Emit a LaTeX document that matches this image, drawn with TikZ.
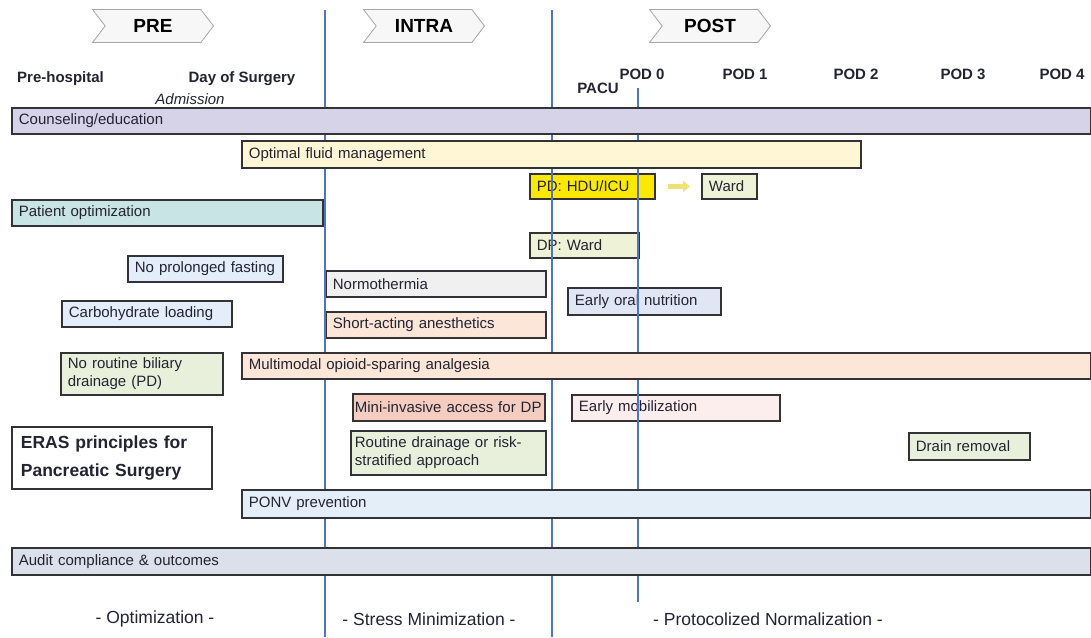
\documentclass[tikz,border=0pt]{standalone}
\usepackage{fontspec}
\setmainfont{Liberation Sans}
\usetikzlibrary{shapes.symbols,arrows.meta,shadows}

\definecolor{boxline}{RGB}{50,50,55}
\definecolor{txt}{RGB}{35,35,50}
\definecolor{divider}{RGB}{80,115,195}
\definecolor{lav}{RGB}{214,210,232}
\definecolor{fluid}{RGB}{255,246,214}
\definecolor{icuyellow}{RGB}{252,232,0}
\definecolor{wardgreen}{RGB}{238,242,214}
\definecolor{teal}{RGB}{200,228,228}
\definecolor{paleblue}{RGB}{228,238,250}
\definecolor{palegray}{RGB}{240,240,240}
\definecolor{lilacblue}{RGB}{225,230,245}
\definecolor{peach}{RGB}{252,230,216}
\definecolor{salmon}{RGB}{245,205,192}
\definecolor{pink}{RGB}{253,238,238}
\definecolor{palegreen}{RGB}{232,240,220}
\definecolor{skyblue}{RGB}{228,238,248}
\definecolor{auditgray}{RGB}{220,224,234}
\definecolor{arrowyellow}{RGB}{236,226,120}

\newcommand{\bxfont}{\fontsize{15}{18}\selectfont}

\tikzset{
    bar/.style={draw=boxline, line width=1.8pt, text=txt, font=\bxfont,
        anchor=north west, align=left, inner xsep=7pt, inner ysep=0pt,
        drop shadow={shadow xshift=1.5pt, shadow yshift=-1.5pt, opacity=0.25}},
    phase/.style={shape=signal, signal from=west, signal to=east,
        signal pointer angle=105, draw=gray!70, fill=gray!6, line width=0.8pt,
        minimum width=121pt, minimum height=33pt, inner sep=0pt,
        font=\fontsize{19}{22}\selectfont\bfseries},
    daylbl/.style={font=\fontsize{15}{18}\selectfont\bfseries, text=txt, inner sep=0pt},
    phaselbl/.style={font=\fontsize{17.5}{20}\selectfont, text=txt, inner sep=0pt},
    flowarrow/.style={line width=4.5pt, draw=arrowyellow,
        -{Triangle[length=7pt,width=11pt]}, shorten <=12pt, shorten >=11pt}
}

\begin{document}
\begin{tikzpicture}[x=1pt, y=-1pt]
    \useasboundingbox (0,0) rectangle (1091,637);

    % phase headers
    \foreach \x/\t in {153/PRE,424/INTRA,710/POST}
        {\node[phase] (\t) at (\x,26) {\t};}

    % time points
    \node[daylbl, anchor=west] (prehosp) at (17,79) {Pre-hospital};
    \node[daylbl] (dos) at (242,79) {Day of Surgery};
    \node[font=\bxfont\itshape, text=txt, inner sep=0pt] (adm) at (190,99) {Admission};
    \node[daylbl] (pacu) at (598,88) {PACU};
    \foreach \x/\d in {642/0,745/1,856/2,963/3,1062/4}
        {\node[daylbl] (pod\d) at (\x,74) {POD \d};}

    % small boxes
    \node[bar, fill=icuyellow, text width=111pt, minimum height=25pt] (hdu) at (529,173) {PD: HDU/ICU};
    \node[bar, fill=wardgreen, text width=41pt, minimum height=25pt] (ward) at (701,173) {Ward};
    \node[bar, fill=teal, text width=297pt, minimum height=26pt] (patopt) at (11,199) {Patient optimization};
    \node[bar, fill=wardgreen, text width=95pt, minimum height=25pt] (dpward) at (529,232) {DP: Ward};
    \node[bar, fill=paleblue, text width=141pt, minimum height=26pt] (fasting) at (127,255) {No prolonged fasting};
    \node[bar, fill=palegray, text width=206pt, minimum height=26pt] (normo) at (325,270) {Normothermia};
    \node[bar, fill=lilacblue, text width=139pt, minimum height=27pt] (oral) at (567,287) {Early oral nutrition};
    \node[bar, fill=paleblue, text width=156pt, minimum height=26pt] (carb) at (61,300) {Carbohydrate loading};
    \node[bar, fill=peach, text width=206pt, minimum height=26pt] (shortact) at (325,311) {Short-acting anesthetics};
    \node[bar, fill=palegreen, text width=148pt, minimum height=42pt] (biliary) at (60,352) {No routine biliary\\drainage (PD)};
    \node[bar, fill=salmon, inner xsep=2pt, text width=188pt, minimum height=27pt] (mini) at (352,393) {Mini-invasive access for DP};
    \node[bar, fill=pink, text width=194pt, minimum height=26pt] (mob) at (571,394) {Early mobilization};
    \node[bar, fill=palegreen, inner xsep=4pt, text width=187pt, minimum height=44pt] (routine) at (350,430) {Routine drainage or risk-\\stratified approach};
    \node[bar, fill=palegreen, text width=107pt, minimum height=27pt] (drain) at (908,432) {Drain removal};
    \node[bar, fill=white, inner xsep=9pt, text width=182pt, minimum height=62pt,
        font=\fontsize{17.5}{28}\selectfont\bfseries] (eras) at (11,426) {ERAS principles for\\Pancreatic Surgery};

    \draw[flowarrow] (hdu) -- (ward);

    % dividers
    \draw[divider, line width=1.8pt] (325,10) -- (325,637);
    \draw[divider, line width=1.2pt] (552,10) -- (552,637);
    \draw[divider, line width=1.2pt] (638,88) -- (638,602);

    % long bars
    \node[bar, fill=lav, text width=1065pt, minimum height=26pt] (couns) at (11,107) {Counseling/education};
    \node[bar, fill=fluid, text width=605pt, minimum height=27pt] (fluidmgmt) at (241,140) {Optimal fluid management};
    \node[bar, fill=peach, text width=835pt, minimum height=26pt] (multi) at (241,352) {Multimodal opioid-sparing analgesia};
    \node[bar, fill=skyblue, text width=835pt, minimum height=28pt] (ponv) at (241,489) {PONV prevention};
    \node[bar, fill=auditgray, text width=1065pt, minimum height=27pt] (audit) at (11,547) {Audit compliance \& outcomes};

    % phase goals
    \node[phaselbl] (optim) at (155,619) {- Optimization -};
    \node[phaselbl] (stress) at (429,619) {- Stress Minimization -};
    \node[phaselbl] (normal) at (768,619) {- Protocolized Normalization -};
\end{tikzpicture}
\end{document}
